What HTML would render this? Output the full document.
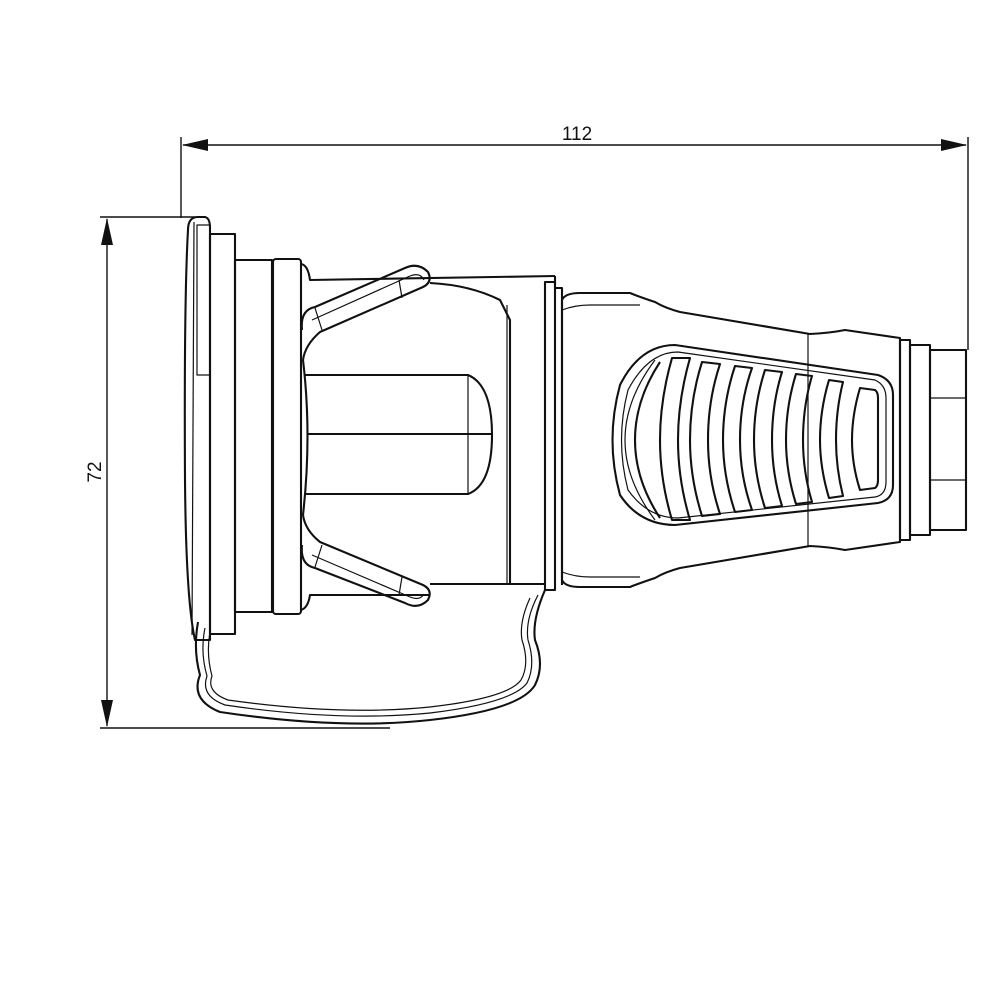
<!DOCTYPE html>
<html><head><meta charset="utf-8"><style>
html,body{margin:0;padding:0;background:#fff;width:1000px;height:1000px;overflow:hidden}
svg{display:block}
</style></head><body>
<svg width="1000" height="1000" viewBox="0 0 1000 1000" xmlns="http://www.w3.org/2000/svg" fill="none" stroke="#111" stroke-width="2.1" stroke-linejoin="round">
<g stroke-width="1.4">
<line x1="181" y1="137" x2="181" y2="218"/>
<line x1="968" y1="137" x2="968" y2="350"/>
<line x1="183" y1="145" x2="966" y2="145"/>
<line x1="100" y1="217" x2="205" y2="217"/>
<line x1="100" y1="728" x2="390" y2="728"/>
<line x1="107" y1="219" x2="107" y2="726"/>
</g>
<g fill="#111" stroke="none">
<polygon points="182,145 208,139 208,151"/>
<polygon points="967,145 941,139 941,151"/>
<polygon points="107,218 101,245 113,245"/>
<polygon points="107,727 101,700 113,700"/>
</g>
<text x="577" y="140" font-family="Liberation Sans, sans-serif" font-size="19" fill="#111" stroke="none" text-anchor="middle">112</text>
<text transform="translate(101,472) rotate(-90)" font-family="Liberation Sans, sans-serif" font-size="19" fill="#111" stroke="none" text-anchor="middle">72</text>

<path d="M188,230 Q188,217 198,217 L205,217 Q210,218 210,228 L210,640 L195,640 Q186,600 185,480 Q184,300 188,230 Z"/>
<line x1="194" y1="222" x2="192" y2="635" stroke-width="1.2"/>
<rect x="197" y="225" width="13" height="150" stroke-width="1.2"/>
<rect x="210" y="234" width="25" height="400"/>
<rect x="235" y="260" width="37" height="352"/>
<rect x="273" y="259" width="28" height="355" rx="3"/>
<path d="M301,264 Q308,265 310,280 L555,276"/>
<path d="M301,610 Q308,608 310,595 L430,595"/>
<line x1="555" y1="276" x2="555" y2="285"/>
<path d="M430,283 Q470,285 500,300 L510,320 L510,584"/>
<line x1="507" y1="305" x2="507" y2="584" stroke-width="1.2"/>
<line x1="430" y1="584" x2="545" y2="584"/>
<path d="M302,330 Q300,310 315,307 L405,268 Q418,262 428,272 Q433,282 423,287 L320,332 Q305,345 303,360"/>
<path d="M312,320 L410,276 Q420,272 424,280" stroke-width="1.2"/>
<line x1="315" y1="308" x2="322" y2="330" stroke-width="1.2"/>
<line x1="399" y1="280" x2="402" y2="298" stroke-width="1.2"/>
<path d="M302,545 Q300,565 315,568 L405,603 Q418,610 428,600 Q433,590 423,585 L320,542 Q305,530 303,515"/>
<path d="M312,555 L410,597 Q420,601 424,594" stroke-width="1.2"/>
<line x1="315" y1="567" x2="322" y2="545" stroke-width="1.2"/>
<line x1="399" y1="595" x2="402" y2="577" stroke-width="1.2"/>
<path d="M303,360 Q312,435 303,515"/>
<path d="M305,375 L468,375 Q492,385 492,435 Q492,485 468,494 L305,494"/>
<line x1="308" y1="434" x2="492" y2="434"/>
<line x1="468" y1="375" x2="468" y2="494" stroke-width="1.2"/>
<path d="M545,282 L555,282 L555,590 L545,590 Z"/>
<path d="M555,288 L562,288 L562,585"/>
<path d="M198,622 Q193,650 200,675 Q190,700 220,712 Q340,730 430,720 Q520,710 535,685 Q545,665 535,640 Q532,620 545,590"/>
<path d="M205,628 Q200,652 207,676 Q200,696 225,705 Q340,722 430,713 Q512,703 527,683 Q536,665 528,640 Q525,620 538,595" stroke-width="1.2"/>
<path d="M210,632 Q206,654 212,676 Q206,692 228,700 Q340,716 430,707 Q508,698 521,680 Q530,664 522,640 Q519,622 530,598" stroke-width="1.2"/>
<path d="M562,300 Q565,293 580,293 L630,293 Q640,297 655,302 Q665,308 680,312 L810,334 Q830,333 845,330 L900,338 L900,542 L845,550 Q830,547 810,546 L680,568 Q665,572 655,578 Q640,583 630,587 L580,587 Q565,587 562,580 Z"/>
<path d="M562,310 Q575,305 590,305 L640,305" stroke-width="1.2"/>
<path d="M562,572 Q575,577 590,577 L640,577" stroke-width="1.2"/>
<line x1="808" y1="334" x2="808" y2="546" stroke-width="1.2"/>
<rect x="900" y="340" width="10" height="200"/>
<rect x="910" y="345" width="20" height="190"/>
<rect x="930" y="350" width="36" height="180"/>
<line x1="930" y1="398" x2="966" y2="398" stroke-width="1.2"/>
<line x1="930" y1="480" x2="966" y2="480" stroke-width="1.2"/>
<path d="M675,345 L878,375 Q893,380 893,395 L893,485 Q893,500 878,503 L675,525 Q640,525 620,495 Q605,440 620,385 Q640,345 675,345 Z"/>
<path d="M678,352 L875,380 Q886,385 886,398 L886,482 Q886,495 875,497 L678,518 Q648,518 628,490 Q615,440 628,390 Q648,352 678,352 Z" stroke-width="1.2"/>
<path d="M655,360 Q625,400 625,440 Q625,480 655,520" stroke-width="1.2"/>
<path d="M660,362 Q635,400 635,440 Q635,480 660,518"/>
<g>
<path d="M672,358 L690,358 Q678,400 678,440 Q678,480 690,520 L672,520 Q660,480 660,440 Q660,400 672,358 Z"/>
<path d="M702,362 L720,364 Q708,400 708,440 Q708,478 720,514 L702,516 Q690,478 690,440 Q690,400 702,362 Z"/>
<path d="M735,366 L752,368 Q740,402 740,440 Q740,476 752,510 L735,512 Q723,476 723,440 Q723,402 735,366 Z"/>
<path d="M765,370 L782,372 Q772,404 772,440 Q772,474 782,506 L765,508 Q754,474 754,440 Q754,404 765,370 Z"/>
<path d="M796,374 L812,376 Q803,406 803,440 Q803,472 812,502 L796,504 Q786,472 786,440 Q786,406 796,374 Z"/>
<path d="M829,380 L843,382 Q836,410 836,440 Q836,468 843,496 L829,498 Q820,468 820,440 Q820,410 829,380 Z"/>
<path d="M860,388 L875,390 Q878,392 878,398 L878,480 Q878,486 875,488 L860,490 Q852,465 852,440 Q852,415 860,388 Z"/>
</g>
</svg>
</body></html>
